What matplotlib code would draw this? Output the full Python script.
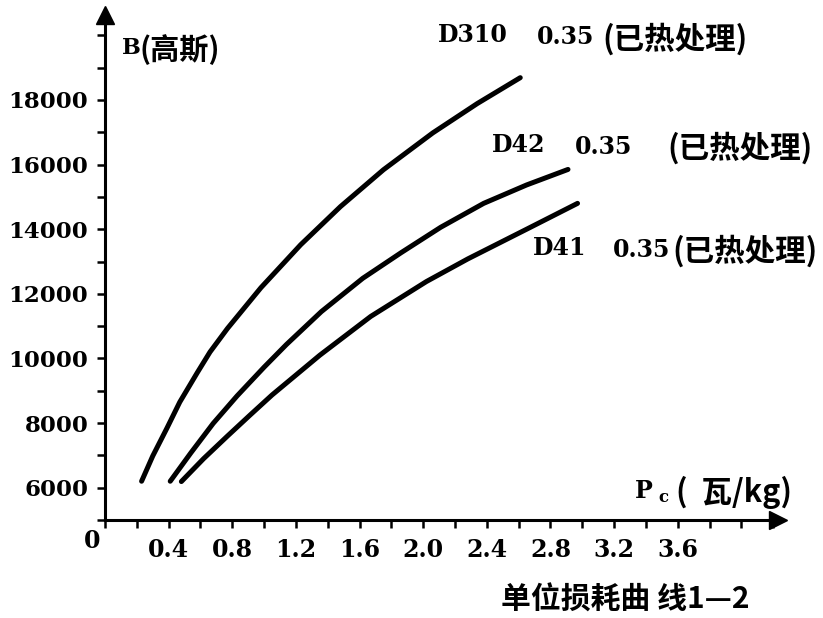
import matplotlib.pyplot as plt
from matplotlib.ticker import MultipleLocator

# B-Pc curves (Pc in W/kg, B in Gauss)
d310_pc = [0.23, 0.30, 0.39, 0.47, 0.58, 0.66, 0.77, 0.98, 1.23, 1.48, 1.75, 2.06, 2.34, 2.61]
d310_b = [6200, 6980, 7850, 8650, 9560, 10200, 10930, 12190, 13520, 14700, 15840, 16980, 17890, 18690]

d42_pc = [0.41, 0.54, 0.68, 0.83, 1.00, 1.14, 1.36, 1.62, 1.86, 2.11, 2.38, 2.65, 2.91]
d42_b = [6200, 7080, 7990, 8840, 9730, 10430, 11450, 12480, 13270, 14060, 14800, 15370, 15850]

d41_pc = [0.48, 0.62, 0.77, 0.91, 1.05, 1.35, 1.67, 2.02, 2.28, 2.65, 2.97]
d41_b = [6190, 6900, 7600, 8240, 8870, 10100, 11300, 12380, 13080, 14000, 14800]

xtick_vals = [0.4, 0.8, 1.2, 1.6, 2.0, 2.4, 2.8, 3.2, 3.6]
xtick_labels = ['0.4', '0.8', '1.2', '1.6', '2.0', '2.4', '2.8', '3.2', '3.6']
ytick_vals = [6000, 8000, 10000, 12000, 14000, 16000, 18000]
ytick_labels = ['6000', '8000', '10000', '12000', '14000', '16000', '18000']

W, H = 823, 618
LATIN = dict(family='DejaVu Serif', weight='bold')
CJK = dict(family=['Noto Sans CJK SC', 'DejaVu Sans'], weight='bold')


def fpos(x, y):
    # pixel position in the reference -> figure fraction
    return x / W, 1 - y / H


fig = plt.figure(figsize=(W / 100, H / 100), dpi=100)
ax = fig.add_axes([105 / W, 1 - 520 / H, 673 / W, 505 / H])

for pc, b in [(d310_pc, d310_b), (d42_pc, d42_b), (d41_pc, d41_b)]:
    ax.plot(pc, b, color='black', lw=3.6, solid_capstyle='round', solid_joinstyle='round')

ax.set_xlim(0, 4.23)
ax.set_ylim(5000, 20630)

for s in ['top', 'right']:
    ax.spines[s].set_visible(False)
for s in ['left', 'bottom']:
    ax.spines[s].set_linewidth(2.2)

ax.set_xticks(xtick_vals)
ax.set_xticklabels(xtick_labels, fontsize=17, **LATIN)
ax.set_yticks(ytick_vals)
ax.set_yticklabels(ytick_labels, fontsize=16.5, **LATIN)
ax.xaxis.set_minor_locator(MultipleLocator(0.2))
ax.yaxis.set_minor_locator(MultipleLocator(1000))
ax.tick_params(which='both', direction='out', width=1.8, length=6)
ax.tick_params(axis='x', pad=7)
ax.tick_params(axis='y', pad=6)

# axis arrows
ax.plot([1], [0], marker='>', ms=13, color='black', transform=ax.transAxes, clip_on=False)
ax.plot([0], [1], marker='^', ms=13, color='black', transform=ax.transAxes, clip_on=False)

fig.text(*fpos(92, 541), '0', fontsize=17, ha='center', va='center', **LATIN)

# axis titles
fig.text(*fpos(122, 48), 'B', fontsize=16, ha='left', va='center', **LATIN)
fig.text(*fpos(140, 50), '(高斯)', fontsize=21, ha='left', va='center', **CJK)
fig.text(*fpos(635, 491), 'P', fontsize=17, ha='left', va='center', **LATIN)
fig.text(*fpos(658, 497), 'c', fontsize=12, ha='left', va='center', **LATIN)
fig.text(*fpos(792, 492), '(  瓦/kg)', fontsize=22, ha='right', va='center', **CJK)

# curve labels
fig.text(*fpos(438, 35), 'D310', fontsize=17, ha='left', va='center', **LATIN)
fig.text(*fpos(537, 37), '0.35', fontsize=17, ha='left', va='center', **LATIN)
fig.text(*fpos(748, 39), '(已热处理)', fontsize=22, ha='right', va='center', **CJK)
fig.text(*fpos(492, 145), 'D42', fontsize=17, ha='left', va='center', **LATIN)
fig.text(*fpos(575, 147), '0.35', fontsize=17, ha='left', va='center', **LATIN)
fig.text(*fpos(813, 148), '(已热处理)', fontsize=22, ha='right', va='center', **CJK)
fig.text(*fpos(533, 248), 'D41', fontsize=17, ha='left', va='center', **LATIN)
fig.text(*fpos(613, 250), '0.35', fontsize=17, ha='left', va='center', **LATIN)
fig.text(*fpos(818, 251), '(已热处理)', fontsize=22, ha='right', va='center', **CJK)

fig.text(*fpos(625, 600), '单位损耗曲 线1—2', fontsize=21.5, ha='center', va='center', **CJK)

fig.savefig('out.png', dpi=100)
